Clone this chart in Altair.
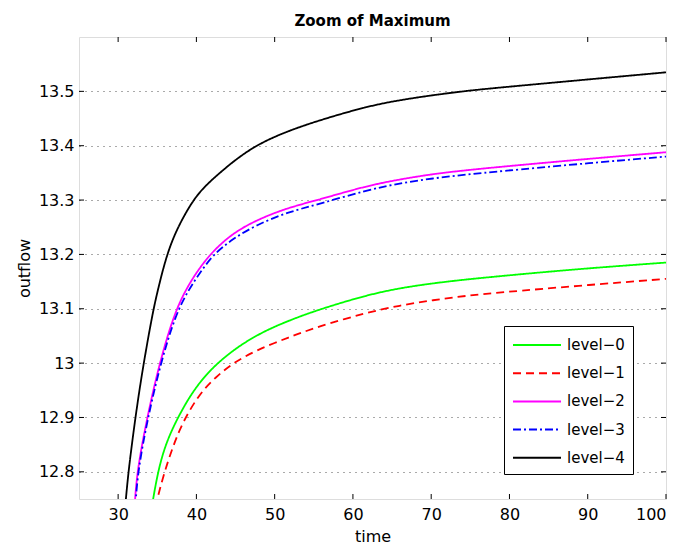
import altair as alt
import pandas as pd

# ---- data ----
series_names = ["level\u22120", "level\u22121", "level\u22122", "level\u22123", "level\u22124"]

t0 = [34.3, 35.06, 36.14, 37.8, 39.54, 41.68, 44.65, 48.07, 51.9, 55.74, 61.71, 65.97, 70.23, 74.5, 78.76, 88.57, 100.0]
v0 = [12.735, 12.80, 12.855, 12.905, 12.948, 12.987, 13.024, 13.055, 13.079, 13.099, 13.125, 13.138, 13.147, 13.154, 13.160, 13.173, 13.185]

t1 = [34.75, 35.7, 36.98, 38.26, 40.4, 42.53, 44.65, 47.65, 51.9, 55.3, 61.71, 65.97, 70.23, 74.5, 78.76, 88.57, 100.0]
v1 = [12.735, 12.79, 12.846, 12.892, 12.944, 12.975, 13.0, 13.024, 13.048, 13.066, 13.093, 13.106, 13.116, 13.124, 13.130, 13.142, 13.155]

t2 = [32.1, 32.4, 33.7, 35.28, 37.2, 38.9, 40.4, 42.1, 44.65, 47.65, 51.48, 55.74, 61.71, 65.97, 70.23, 74.5, 78.76, 88.57, 100.0]
v2 = [12.735, 12.80, 12.90, 13.0, 13.093, 13.142, 13.175, 13.206, 13.239, 13.263, 13.285, 13.301, 13.326, 13.338, 13.348, 13.355, 13.361, 13.374, 13.388]

t3 = [32.2, 32.5, 33.8, 35.4, 37.3, 39.0, 40.5, 42.1, 44.65, 47.65, 51.48, 55.74, 61.71, 65.97, 70.23, 74.5, 78.76, 88.57, 100.0]
v3 = [12.735, 12.80, 12.90, 12.998, 13.088, 13.135, 13.167, 13.199, 13.229, 13.254, 13.277, 13.293, 13.318, 13.331, 13.340, 13.347, 13.353, 13.366, 13.380]

t4 = [30.9, 31.3, 32.2, 33.1, 34.4, 35.06, 36.14, 37.42, 39.54, 41.25, 43.38, 45.51, 48.07, 51.48, 55.74, 61.71, 65.97, 70.23, 74.5, 78.76, 88.57, 100.0]
v4 = [12.735, 12.80, 12.90, 12.987, 13.092, 13.134, 13.196, 13.245, 13.300, 13.328, 13.355, 13.380, 13.404, 13.426, 13.447, 13.472, 13.484, 13.493, 13.501, 13.507, 13.520, 13.535]

x_ticks = [30, 40, 50, 60, 70, 80, 90, 100]
y_ticks = [12.8, 12.9, 13.0, 13.1, 13.2, 13.3, 13.4, 13.5]

colors = ["#00ff00", "#ff0000", "#ff00ff", "#0000ff", "#000000"]
dashes = [[1, 0], [8, 5], [1, 0], [8, 3, 2, 3], [1, 0]]

rows = []
for name, ts, vs in zip(series_names, [t0, t1, t2, t3, t4], [v0, v1, v2, v3, v4]):
    for t, v in zip(ts, vs):
        rows.append({"series": name, "time": t, "outflow": v})
df = pd.DataFrame(rows)

W, H = 587, 462
FONT = "DejaVu Sans"

xscale = alt.Scale(domain=[25, 100], nice=False, zero=False)
yscale = alt.Scale(domain=[12.75, 13.6], nice=False, zero=False)

lines = alt.Chart(df).mark_line(clip=True, strokeWidth=1.8, interpolate="basis").encode(
    x=alt.X("time:Q", scale=xscale,
            axis=alt.Axis(title="time", values=x_ticks, ticks=False, domain=False, grid=False,
                          labelFontSize=16, labelPadding=7, titleFontSize=16, titleFontWeight="normal",
                          titlePadding=6, labelColor="black", titleColor="black", labelFont=FONT, titleFont=FONT)),
    y=alt.Y("outflow:Q", scale=yscale,
            axis=alt.Axis(title="outflow", values=y_ticks, ticks=False, domain=False, grid=True,
                          gridDash=[1, 5], gridColor="#555555", gridWidth=1,
                          labelFontSize=16, labelPadding=5, titleFontSize=16, titleFontWeight="normal",
                          titlePadding=6, labelColor="black", titleColor="black", labelFont=FONT, titleFont=FONT,
                          labelExpr="datum.value == 13 ? '13' : format(datum.value, '.1f')")),
    color=alt.Color("series:N", scale=alt.Scale(domain=series_names, range=colors),
                    legend=alt.Legend(title=None, orient="none", legendX=425, legendY=289,
                                      fillColor="white", strokeColor="black", padding=8,
                                      symbolType="M-1,0H3.8", symbolSize=400, symbolStrokeWidth=2,
                                      labelFontSize=15, labelFont=FONT, labelColor="black",
                                      rowPadding=9.2, labelOffset=33)),
    strokeDash=alt.StrokeDash("series:N", scale=alt.Scale(domain=series_names, range=dashes), legend=None),
)

xt = pd.DataFrame({"v": x_ticks})
yt = pd.DataFrame({"v": y_ticks})

xb = alt.Chart(xt).mark_rule(color="black", strokeWidth=1).encode(
    x=alt.X("v:Q", scale=xscale), y=alt.value(H), y2=alt.value(H - 5))
xtop = alt.Chart(xt).mark_rule(color="black", strokeWidth=1).encode(
    x=alt.X("v:Q", scale=xscale), y=alt.value(0), y2=alt.value(5))
yl = alt.Chart(yt).mark_rule(color="black", strokeWidth=1).encode(
    y=alt.Y("v:Q", scale=yscale), x=alt.value(0), x2=alt.value(5))
yr = alt.Chart(yt).mark_rule(color="black", strokeWidth=1).encode(
    y=alt.Y("v:Q", scale=yscale), x=alt.value(W), x2=alt.value(W - 5))

chart = alt.layer(xb, xtop, yl, yr, lines).properties(
    width=W, height=H,
    padding={"left": 8, "top": 5, "right": 5, "bottom": 5},
    title=alt.TitleParams("Zoom of Maximum", fontSize=15, fontWeight="bold", font=FONT, color="black", offset=8),
).configure_view(stroke="black", strokeWidth=1).configure(background="white")

chart.save("out.html", embed_options={"renderer": "svg", "actions": False})
